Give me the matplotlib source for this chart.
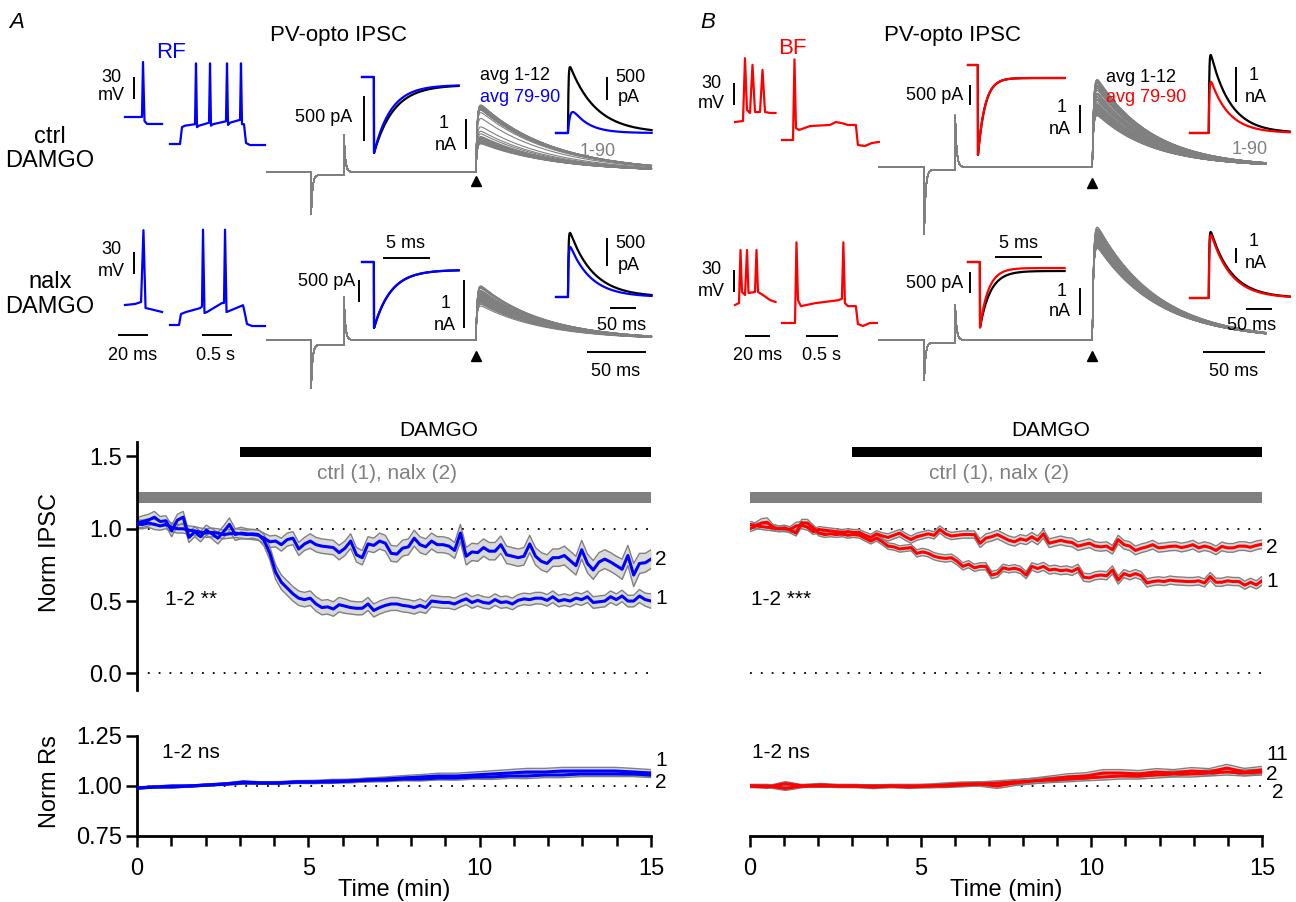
import numpy as np
import matplotlib.pyplot as plt

plt.rcParams['font.family'] = ['Liberation Sans', 'DejaVu Sans']

W, H = 1296, 902
BLUE, RED, GREY, BAND = '#0000ff', '#ff0000', '#808080', '#d9d9d9'

# ---------------- time course, one sweep every 10 s (sweeps 1-90) ----------------
ipsc_ctrl_A = [1.03, 1.03, 1.04, 1.03, 1.02, 1.03, 1.01, 1.00, 1.00, 0.99,
               0.985, 0.975, 0.97, 0.975, 0.97, 0.96, 0.965, 0.97, 0.965, 0.96,
               0.965, 0.96, 0.92, 0.83, 0.70, 0.63, 0.59, 0.55, 0.52, 0.51,
               0.52, 0.48, 0.455, 0.46, 0.445, 0.475, 0.465, 0.455, 0.45, 0.45,
               0.48, 0.435, 0.455, 0.47, 0.48, 0.48, 0.47, 0.465, 0.455, 0.47,
               0.455, 0.50, 0.495, 0.49, 0.49, 0.48, 0.50, 0.515, 0.49, 0.505,
               0.49, 0.485, 0.51, 0.49, 0.495, 0.48, 0.505, 0.515, 0.51, 0.52,
               0.52, 0.505, 0.53, 0.50, 0.51, 0.50, 0.52, 0.51, 0.53, 0.49,
               0.495, 0.50, 0.53, 0.51, 0.535, 0.50, 0.50, 0.535, 0.51, 0.50]
sem_ctrl_A = [0.03, 0.03, 0.03, 0.035, 0.03, 0.03, 0.03, 0.03, 0.03, 0.03,
              0.03, 0.03, 0.03, 0.03, 0.03, 0.03, 0.03, 0.03, 0.03, 0.03,
              0.03, 0.035, 0.04, 0.045, 0.05, 0.05, 0.05, 0.05, 0.05, 0.05,
              0.05, 0.05, 0.05, 0.05, 0.05, 0.05, 0.05, 0.045, 0.045, 0.045,
              0.045, 0.045, 0.045, 0.045, 0.045, 0.045, 0.045, 0.045, 0.045, 0.045,
              0.04, 0.04, 0.04, 0.04, 0.04, 0.04, 0.04, 0.04, 0.04, 0.04,
              0.04, 0.04, 0.04, 0.04, 0.04, 0.04, 0.04, 0.04, 0.04, 0.04,
              0.04, 0.04, 0.04, 0.04, 0.04, 0.04, 0.04, 0.04, 0.04, 0.04,
              0.04, 0.04, 0.04, 0.04, 0.04, 0.04, 0.04, 0.045, 0.045, 0.05]
ipsc_nalx_A = [1.04, 1.05, 1.06, 1.08, 1.05, 1.055, 0.985, 1.06, 1.08, 0.94,
               0.98, 0.945, 0.99, 0.965, 0.935, 0.98, 1.03, 0.96, 0.97, 0.965,
               0.96, 0.955, 0.935, 0.91, 0.915, 0.89, 0.925, 0.935, 0.86, 0.895,
               0.915, 0.89, 0.88, 0.875, 0.87, 0.835, 0.865, 0.915, 0.82, 0.80,
               0.895, 0.885, 0.915, 0.90, 0.83, 0.825, 0.866, 0.875, 0.935, 0.89,
               0.875, 0.915, 0.89, 0.89, 0.88, 0.85, 0.97, 0.81, 0.84, 0.835,
               0.87, 0.845, 0.845, 0.89, 0.82, 0.81, 0.80, 0.81, 0.895, 0.81,
               0.775, 0.76, 0.80, 0.80, 0.815, 0.78, 0.745, 0.855, 0.76, 0.715,
               0.77, 0.79, 0.77, 0.745, 0.72, 0.815, 0.68, 0.76, 0.765, 0.79]
sem_nalx_A = [0.035, 0.04, 0.04, 0.04, 0.035, 0.035, 0.04, 0.04, 0.04, 0.035,
              0.035, 0.035, 0.035, 0.035, 0.04, 0.04, 0.045, 0.04, 0.04, 0.035,
              0.035, 0.035, 0.035, 0.04, 0.04, 0.045, 0.045, 0.045, 0.045, 0.045,
              0.05, 0.05, 0.05, 0.05, 0.05, 0.05, 0.05, 0.05, 0.05, 0.05,
              0.05, 0.05, 0.055, 0.055, 0.055, 0.055, 0.055, 0.055, 0.055, 0.055,
              0.055, 0.055, 0.055, 0.055, 0.055, 0.055, 0.06, 0.06, 0.06, 0.06,
              0.06, 0.06, 0.06, 0.06, 0.06, 0.06, 0.06, 0.06, 0.06, 0.06,
              0.06, 0.06, 0.06, 0.06, 0.065, 0.065, 0.065, 0.065, 0.065, 0.065,
              0.065, 0.065, 0.065, 0.065, 0.07, 0.07, 0.08, 0.07, 0.065, 0.065]
ipsc_ctrl_B = [1.03, 1.02, 1.015, 1.01, 1.005, 1.0, 1.005, 0.99, 0.97, 1.04,
               1.04, 1.005, 0.97, 0.96, 0.965, 0.96, 0.965, 0.955, 0.96, 0.955,
               0.935, 0.915, 0.935, 0.91, 0.88, 0.875, 0.86, 0.865, 0.87, 0.83,
               0.84, 0.83, 0.81, 0.80, 0.795, 0.80, 0.775, 0.74, 0.755, 0.73,
               0.74, 0.74, 0.68, 0.69, 0.73, 0.72, 0.727, 0.715, 0.68, 0.74,
               0.725, 0.74, 0.715, 0.72, 0.71, 0.715, 0.705, 0.727, 0.665, 0.66,
               0.675, 0.68, 0.675, 0.715, 0.645, 0.69, 0.675, 0.69, 0.675, 0.625,
               0.635, 0.64, 0.635, 0.645, 0.64, 0.638, 0.635, 0.635, 0.64, 0.625,
               0.67, 0.63, 0.63, 0.64, 0.635, 0.635, 0.61, 0.63, 0.612, 0.64]
sem_ctrl_B = [0.02, 0.02, 0.02, 0.02, 0.02, 0.02, 0.02, 0.02, 0.02, 0.025,
              0.025, 0.02, 0.02, 0.02, 0.02, 0.02, 0.02, 0.02, 0.02, 0.02,
              0.02, 0.02, 0.02, 0.022, 0.022, 0.022, 0.022, 0.022, 0.022, 0.025,
              0.025, 0.025, 0.025, 0.025, 0.025, 0.025, 0.025, 0.025, 0.025, 0.025,
              0.025, 0.025, 0.025, 0.025, 0.025, 0.025, 0.025, 0.025, 0.025, 0.025,
              0.028, 0.028, 0.028, 0.028, 0.028, 0.028, 0.028, 0.028, 0.028, 0.028,
              0.028, 0.028, 0.028, 0.028, 0.028, 0.028, 0.028, 0.028, 0.028, 0.028,
              0.028, 0.028, 0.028, 0.028, 0.028, 0.028, 0.028, 0.028, 0.028, 0.028,
              0.028, 0.028, 0.028, 0.028, 0.028, 0.028, 0.028, 0.028, 0.028, 0.03]
ipsc_nalx_B = [1.0, 1.02, 1.04, 1.045, 1.01, 1.0, 1.0, 0.995, 1.02, 1.025,
               1.01, 0.98, 0.995, 0.99, 0.985, 0.98, 0.975, 0.98, 0.975, 0.975,
               0.955, 0.94, 0.965, 0.95, 0.94, 0.955, 0.97, 0.945, 0.925, 0.945,
               0.955, 0.965, 0.955, 0.995, 0.965, 0.95, 0.955, 0.96, 0.96, 0.96,
               0.90, 0.935, 0.945, 0.96, 0.94, 0.92, 0.91, 0.93, 0.92, 0.945,
               0.92, 0.965, 0.90, 0.91, 0.92, 0.91, 0.905, 0.88, 0.89, 0.90,
               0.88, 0.875, 0.88, 0.855, 0.925, 0.89, 0.88, 0.85, 0.865, 0.875,
               0.89, 0.868, 0.872, 0.878, 0.88, 0.87, 0.878, 0.89, 0.868, 0.88,
               0.87, 0.85, 0.878, 0.868, 0.868, 0.88, 0.88, 0.872, 0.885, 0.893]
sem_nalx_B = [0.02, 0.025, 0.03, 0.03, 0.02, 0.02, 0.02, 0.02, 0.025, 0.025,
              0.02, 0.02, 0.02, 0.02, 0.02, 0.02, 0.02, 0.02, 0.02, 0.02,
              0.022, 0.022, 0.022, 0.022, 0.025, 0.025, 0.025, 0.025, 0.025, 0.025,
              0.025, 0.025, 0.025, 0.025, 0.025, 0.025, 0.025, 0.025, 0.025, 0.025,
              0.03, 0.03, 0.03, 0.03, 0.03, 0.03, 0.03, 0.03, 0.03, 0.03,
              0.03, 0.03, 0.03, 0.03, 0.03, 0.03, 0.03, 0.03, 0.03, 0.03,
              0.03, 0.03, 0.03, 0.03, 0.03, 0.03, 0.03, 0.03, 0.03, 0.03,
              0.03, 0.03, 0.03, 0.03, 0.03, 0.03, 0.03, 0.03, 0.03, 0.03,
              0.03, 0.03, 0.03, 0.03, 0.03, 0.03, 0.03, 0.03, 0.03, 0.03]

# series resistance, one point every 30 s
rs_ctrl_A = [0.99, 0.995, 1.0, 1.0, 1.005, 1.01, 1.015, 1.015, 1.015, 1.02,
             1.02, 1.025, 1.025, 1.03, 1.035, 1.04, 1.045, 1.05, 1.05, 1.055,
             1.06, 1.065, 1.07, 1.07, 1.075, 1.075, 1.075, 1.075, 1.07, 1.065]
rs_sem_ctrl_A = [0.005, 0.005, 0.005, 0.005, 0.005, 0.006, 0.006, 0.006, 0.007, 0.007,
                 0.008, 0.008, 0.009, 0.01, 0.01, 0.012, 0.012, 0.014, 0.014, 0.015,
                 0.016, 0.017, 0.018, 0.018, 0.018, 0.018, 0.018, 0.018, 0.018, 0.017]
rs_nalx_A = [0.99, 0.995, 0.995, 1.0, 1.005, 1.01, 1.02, 1.015, 1.015, 1.02,
             1.02, 1.02, 1.025, 1.03, 1.03, 1.035, 1.035, 1.04, 1.04, 1.045,
             1.045, 1.05, 1.05, 1.055, 1.055, 1.06, 1.06, 1.06, 1.06, 1.055]
rs_sem_nalx_A = [0.005, 0.005, 0.005, 0.005, 0.005, 0.005, 0.006, 0.006, 0.006, 0.006,
                 0.007, 0.007, 0.008, 0.008, 0.009, 0.009, 0.01, 0.01, 0.011, 0.011,
                 0.012, 0.012, 0.013, 0.013, 0.013, 0.013, 0.013, 0.013, 0.013, 0.013]
rs_ctrl_B = [1.0, 1.0, 0.988, 1.0, 1.005, 1.0, 1.0, 0.995, 1.0, 1.0,
             1.0, 1.005, 1.01, 1.01, 1.0, 1.015, 1.025, 1.035, 1.045, 1.05,
             1.065, 1.065, 1.06, 1.07, 1.065, 1.075, 1.07, 1.09, 1.07, 1.08]
rs_sem_ctrl_B = [0.008, 0.008, 0.01, 0.008, 0.008, 0.008, 0.008, 0.008, 0.008, 0.008,
                 0.009, 0.01, 0.01, 0.011, 0.012, 0.013, 0.014, 0.015, 0.016, 0.016,
                 0.017, 0.017, 0.017, 0.017, 0.017, 0.017, 0.017, 0.018, 0.018, 0.018]
rs_nalx_B = [1.0, 0.995, 1.012, 1.0, 1.0, 1.0, 1.0, 1.0, 1.0, 0.995,
             1.0, 1.0, 1.005, 1.01, 1.015, 1.02, 1.025, 1.03, 1.035, 1.04,
             1.045, 1.05, 1.05, 1.055, 1.06, 1.06, 1.065, 1.07, 1.065, 1.07]
rs_sem_nalx_B = [0.006, 0.006, 0.01, 0.006, 0.006, 0.006, 0.006, 0.006, 0.007, 0.007,
                 0.008, 0.008, 0.009, 0.01, 0.011, 0.012, 0.013, 0.013, 0.014, 0.014,
                 0.015, 0.015, 0.015, 0.015, 0.015, 0.015, 0.015, 0.015, 0.015, 0.015]

# ---------------- example cells: firing (ms, mV from rest) ----------------
ap_A1_single_t = [0, 11.3, 12, 13, 14.7, 24.7]
ap_A1_single_v = [0, 0, 75, -5.5, -9.5, -9.5]
ap_A1_train_t = [0, 167, 200, 250, 417, 433, 450, 483, 650, 667, 683, 717, 933, 950,
                 967, 1000, 1167, 1183, 1200, 1233, 1267, 1333, 1583]
ap_A1_train_v = [0, 0, 23, 25, 27, 110, 23, 25, 29, 110, 25, 27, 31, 110,
                 26, 29, 33, 110, 27, 27, 1.4, -1.4, -1.4]
ap_A2_single_t = [0, 6.7, 10.7, 12.3, 13.7, 16.7, 24.7]
ap_A2_single_v = [0, 1.4, 4.1, 102, -4.1, -5.5, -9.5]
ap_A2_train_t = [0, 150, 183, 267, 500, 533, 550, 575, 617, 867, 900, 917, 942, 983,
                 1217, 1250, 1283, 1367, 1583]
ap_A2_train_v = [0, 0, 15, 17.7, 23, 25, 130, 16.4, 17.7, 30, 30, 130, 17.7, 19,
                 27, 15, 1.4, -1.4, -1.4]
ap_B1_burst_t = [0, 6.4, 8, 9.6, 12, 14, 16, 20, 22, 24, 28, 32.4]
ap_B1_burst_v = [0, 1.4, 87, 16.4, 12.3, 78, 13.6, 13.6, 71, 13.6, 12.3, 12.3]
ap_B1_train_t = [0, 172, 195, 218, 265, 437, 749, 842, 936, 1030, 1154, 1186, 1295, 1404, 1513]
ap_B1_train_v = [0, 0, 110, 16.4, 13.6, 19, 20.5, 24.5, 23, 20.5, 20.5, -6.8, -8.2, -4.1, -2.7]
ap_B2_burst_t = [0, 3.2, 4.4, 5.6, 8, 9.6, 10.8, 16, 17.2, 18.4, 22.4, 28, 32.4]
ap_B2_burst_v = [0, 2.7, 75, 17.7, 13.6, 75, 16.4, 17.7, 75, 17.7, 13.6, 6.8, 4.1]
ap_B2_train_t = [0, 203, 226, 250, 296, 515, 874, 936, 959, 983, 1030, 1154, 1186, 1264, 1373, 1482]
ap_B2_train_v = [0, 0, 110, 31, 23, 27, 31, 33, 110, 27, 23, 23, -1.4, -4.1, 0, 0]

# IPSC sweeps: rows A-ctrl, A-nalx, B-ctrl, B-nalx
sweep_peak_nA = [2.15, 1.04, 3.0, 4.0]      # sweep amplitude at norm IPSC = 1
sweep_tau_ms = [62, 55, 45, 50]
cap_dip_nA = [1.53, 1.08, 2.6, 1.6]
cap_up_nA = [1.23, 0.9, 2.0, 1.4]
# capacitive transient, zoomed: drop (pA), steady state (pA), tau black / colour (ms)
capz_drop = [844, 1500, 2250, 1570]
capz_ss_black = [89, 180, 325, 214]
capz_ss_col = [89, 180, 325, 143]
capz_tau_black = [2.1, 1.8, 0.75, 1.1]
capz_tau_col = [1.8, 1.8, 0.75, 0.9]
# averaged IPSCs: sweeps 1-12 (black) and 79-90 (colour)
avg_amp_black = [1435, 1145, 2230, 4400]
avg_amp_col = [456, 893, 1460, 4200]
avg_tau_black = [50, 45, 38, 40]
avg_tau_col = [30, 40, 35, 38]
avg_rise_col = [4, 1.2, 1.2, 1.2]

t_sweep = np.linspace(0, 15, 90)
t_rs = np.linspace(0, 15, 30)

fig = plt.figure(figsize=(W / 100, H / 100), dpi=100)


def txt(x, y, s, size=13, color='k', ha='center', **kw):
    fig.text(x / W, 1 - y / H, s, fontsize=size, color=color, ha=ha, va='center', **kw)


def trace_ax(ox, oy, sx, sy):
    # invisible axes, pixel (ox, oy) is data (0, 0); sx, sy are units per pixel
    ax = fig.add_axes([ox / W, 1 - (oy + 50) / H, 100 / W, 100 / H])
    ax.set_xlim(0, 100 * sx)
    ax.set_ylim(-50 * sy, 50 * sy)
    ax.axis('off')
    ax.px = (ox, oy, sx, sy)
    return ax


def to_data(ax, x, y):
    ox, oy, sx, sy = ax.px
    return (x - ox) * sx, (oy - y) * sy


def vbar(ax, x, y, length):
    xd, yd = to_data(ax, x, y)
    ax.plot([xd, xd], [yd, yd + length], color='k', lw=1.4, clip_on=False, solid_capstyle='butt')


def hbar(ax, x, y, length):
    xd, yd = to_data(ax, x, y)
    ax.plot([xd, xd + length], [yd, yd], color='k', lw=1.4, clip_on=False, solid_capstyle='butt')


def psc(t, t_on, tau_r, tau_d):
    s = np.clip(t - t_on, 0, None)
    y = np.exp(-s / tau_d) - np.exp(-s / tau_r)
    return y / y.max()


def cap(t, t_on, t_off, dip, up, ss, tau):
    y = np.zeros_like(t)
    a = (t >= t_on) & (t < t_off)
    y[a] = -ss - (dip - ss) * np.exp(-(t[a] - t_on) / tau)
    b = t >= t_off
    y[b] = up * np.exp(-(t[b] - t_off) / tau)
    return y


def cap_zoom(t, t_drop, drop, ss, tau):
    s = np.clip(t - t_drop, 0, None)
    return np.where(t < t_drop, 0.0, -ss - (drop - ss) * np.exp(-s / tau))


def ap(ox, oy, sx, t, v, color):
    ax = trace_ax(ox, oy, sx, 30 / 22)
    ax.plot(t, v, color=color, lw=1.6, clip_on=False)
    return ax


def overlay(i, ox, oy, sx, sy, t_end, norm, pulse, t_on, tri):
    ax = trace_ax(ox, oy, sx, sy)
    t = np.arange(0, t_end, 0.2)
    base = cap(t, pulse[0], pulse[1], cap_dip_nA[i], cap_up_nA[i], 0.1, 1.2)
    k = psc(t, t_on, 1.0, sweep_tau_ms[i])
    for a in norm:
        ax.plot(t, base + sweep_peak_nA[i] * a * k, color=GREY, lw=0.8, clip_on=False)
    xd, yd = to_data(ax, *tri)
    ax.plot(xd, yd, marker='^', color='k', ms=7, clip_on=False)
    return ax


def cap_inset(i, ox, oy, sy, t_drop, t_end, color):
    ax = trace_ax(ox, oy, 5 / 47, sy)
    t = np.arange(0, t_end, 0.02)
    ax.plot(t, cap_zoom(t, t_drop, capz_drop[i], capz_ss_black[i], capz_tau_black[i]),
            color='k', lw=1.6, clip_on=False)
    ax.plot(t, cap_zoom(t, t_drop, capz_drop[i], capz_ss_col[i], capz_tau_col[i]),
            color=color, lw=1.6, clip_on=False)
    return ax


def avg_inset(i, ox, oy, sy, t_on, t_end, color):
    ax = trace_ax(ox, oy, 50 / 26, sy)
    t = np.arange(0, t_end, 0.2)
    ax.plot(t, avg_amp_black[i] * psc(t, t_on, 1.0, avg_tau_black[i]), color='k', lw=1.6, clip_on=False)
    ax.plot(t, avg_amp_col[i] * psc(t, t_on, avg_rise_col[i], avg_tau_col[i]), color=color, lw=1.6, clip_on=False)
    return ax


# ================= panel A, traces =================
txt(17, 22, 'A', size=16, style='italic')
txt(338, 36, 'PV-opto IPSC', size=16)
txt(171, 52, 'RF', size=16, color=BLUE)
txt(50, 137, 'ctrl', size=17)
txt(50, 161, 'DAMGO', size=17)
txt(50, 282, 'nalx', size=17)
txt(50, 307, 'DAMGO', size=17)

ax = ap(125, 117, 20 / 30, ap_A1_single_t, ap_A1_single_v, BLUE)
vbar(ax, 134, 99, 30)
txt(111, 77, '30')
txt(111, 96, 'mV')
ap(170, 144, 500 / 30, ap_A1_train_t, ap_A1_train_v, BLUE)

ax = ap(125, 305, 20 / 30, ap_A2_single_t, ap_A2_single_v, BLUE)
vbar(ax, 134, 274, 30)
hbar(ax, 118, 335, 20)
txt(111, 250, '30')
txt(111, 271, 'mV')
txt(133, 355, '20 ms')
ax = ap(170, 325, 500 / 30, ap_A2_train_t, ap_A2_train_v, BLUE)
hbar(ax, 202, 335, 500)
txt(216, 355, '0.5 s')

ax = overlay(0, 267, 172, 50 / 59, 1 / 30, 326, ipsc_ctrl_A, (37.3, 65.2), 177, (476, 181))
vbar(ax, 466, 149, 1)
txt(444, 124, '1')
txt(446, 146, 'nA')
txt(598, 152, '1-90', color=GREY)
ax = overlay(1, 267, 340, 50 / 59, 1 / 48, 326, ipsc_nalx_A, (37.3, 65.2), 177, (476, 356))
vbar(ax, 464, 328, 1)
hbar(ax, 587, 352, 50)
txt(446, 303, '1')
txt(445, 325, 'nA')
txt(616, 371, '50 ms')

ax = cap_inset(0, 362, 77, 500 / 45, 1.28, 10.3, BLUE)
vbar(ax, 364, 141, 500)
txt(324, 118, '500 pA')
ax = cap_inset(1, 362, 262, 500 / 22, 1.28, 10.3, BLUE)
vbar(ax, 359, 302, 500)
hbar(ax, 383, 258, 5)
txt(327, 281, '500 pA')
txt(406, 243, '5 ms')

txt(480, 75, 'avg 1-12', ha='left')
txt(480, 97, 'avg 79-90', ha='left', color=BLUE)
ax = avg_inset(0, 556, 133, 500 / 23, 23, 184, BLUE)
vbar(ax, 607, 100, 500)
txt(615, 77, '500', ha='left')
txt(618, 98, 'pA', ha='left')
ax = avg_inset(1, 556, 297, 500 / 28, 23, 184, BLUE)
vbar(ax, 607, 266, 500)
hbar(ax, 610, 308, 50)
txt(615, 244, '500', ha='left')
txt(618, 266, 'pA', ha='left')
txt(622, 326, '50 ms')

# ================= panel B, traces =================
txt(708, 22, 'B', size=16, style='italic')
txt(952, 35, 'PV-opto IPSC', size=16)
txt(792, 49, 'BF', size=16, color=RED)

ax = ap(735, 122, 20 / 25, ap_B1_burst_t, ap_B1_burst_v, RED)
vbar(ax, 734, 105, 30)
txt(711, 83, '30')
txt(711, 104, 'mV')
ap(782, 140, 500 / 32, ap_B1_train_t, ap_B1_train_v, RED)

ax = ap(735, 305, 20 / 25, ap_B2_burst_t, ap_B2_burst_v, RED)
vbar(ax, 734, 292, 30)
hbar(ax, 745, 336, 20)
txt(711, 270, '30')
txt(711, 292, 'mV')
txt(758, 355, '20 ms')
ax = ap(782, 323, 500 / 32, ap_B2_train_t, ap_B2_train_v, RED)
hbar(ax, 806, 336, 500)
txt(821, 355, '0.5 s')

ax = overlay(2, 879, 167, 50 / 62, 1 / 28, 312, ipsc_ctrl_B, (36.3, 61.3), 172, (1092, 183))
vbar(ax, 1080, 133, 1)
txt(1062, 108, '1')
txt(1060, 129, 'nA')
txt(1250, 150, '1-90', color=GREY)
ax = overlay(3, 879, 340, 50 / 62, 1 / 27, 312, ipsc_nalx_B, (36.3, 61.3), 172, (1092, 356))
vbar(ax, 1080, 315, 1)
hbar(ax, 1203, 352, 50)
txt(1062, 291, '1')
txt(1060, 312, 'nA')
txt(1234, 371, '50 ms')

ax = cap_inset(2, 968, 65, 500 / 20, 1.06, 10.3, RED)
vbar(ax, 970, 105, 500)
txt(935, 95, '500 pA')
ax = cap_inset(3, 968, 262, 500 / 21, 1.27, 10.3, RED)
vbar(ax, 970, 293, 500)
hbar(ax, 995, 257, 5)
txt(935, 283, '500 pA')
txt(1018, 243, '5 ms')

txt(1106, 78, 'avg 1-12', ha='left')
txt(1106, 98, 'avg 79-90', ha='left', color=RED)
ax = avg_inset(2, 1190, 133, 1000 / 35, 36, 192, RED)
vbar(ax, 1236, 102, 1000)
txt(1254, 75, '1')
txt(1256, 97, 'nA')
ax = avg_inset(3, 1190, 298, 1000 / 15, 36, 192, RED)
vbar(ax, 1236, 263, 1000)
hbar(ax, 1246, 309, 50)
txt(1254, 242, '1')
txt(1256, 264, 'nA')
txt(1252, 326, '50 ms')


# ================= time courses =================
def band(ax, t, m, s, color):
    m, s = np.asarray(m), np.asarray(s)
    ax.fill_between(t, m - s, m + s, color=BAND, lw=0, zorder=1)
    ax.plot(t, m - s, color=GREY, lw=1, zorder=2)
    ax.plot(t, m + s, color=GREY, lw=1, zorder=2)
    ax.plot(t, m, color=color, lw=2.2, zorder=3)


def style(ax, left, bottom):
    for side in ('top', 'right'):
        ax.spines[side].set_visible(False)
    ax.spines['left'].set_visible(left)
    ax.spines['bottom'].set_visible(bottom)
    for side in ('left', 'bottom'):
        ax.spines[side].set_linewidth(2)
    ax.tick_params(which='both', direction='out', width=1.8, labelsize=17)
    ax.tick_params(axis='y', pad=3)
    ax.tick_params(axis='x', pad=8)
    ax.tick_params(which='major', length=8)
    ax.tick_params(which='minor', length=7)
    if not left:
        ax.set_yticks([])
    if not bottom:
        ax.set_xticks([])


def ipsc_panel(x0, w, color, ctrl, sc, nalx, sn, stars, star_t, y2, y1, left):
    ax = fig.add_axes([x0 / W, 1 - 690 / H, w / W, 248 / H])
    ax.set_xlim(0, 15)
    ax.set_ylim(-0.115, 1.6)
    band(ax, t_sweep, nalx, sn, color)
    band(ax, t_sweep, ctrl, sc, color)
    for v in (0, 1):
        ax.plot([0, 15], [v, v], color='k', lw=1.3, ls=(0, (1, 5)), zorder=0)
    ax.fill_between([3, 15], 1.493, 1.562, color='k', lw=0)
    ax.fill_between([0, 15], 1.177, 1.253, color=GREY, lw=0)
    ax.text(8.8, 1.68, 'DAMGO', ha='center', va='center', fontsize=15, clip_on=False)
    ax.text(7.3, 1.38, 'ctrl (1), nalx (2)', ha='center', va='center', fontsize=15, color=GREY)
    ax.text(star_t, 0.51, stars, ha='left', va='center', fontsize=15)
    ax.text(15.12, y2, '2', ha='left', va='center', fontsize=15, clip_on=False)
    ax.text(15.12, y1, '1', ha='left', va='center', fontsize=15, clip_on=False)
    style(ax, left, False)
    if left:
        ax.set_yticks([0, 0.5, 1.0, 1.5])
        ax.set_yticklabels(['0.0', '0.5', '1.0', '1.5'])
    return ax


def rs_panel(x0, w, color, r1, s1, r2, s2, left):
    ax = fig.add_axes([x0 / W, 1 - 836 / H, w / W, 100 / H])
    ax.set_xlim(0, 15)
    ax.set_ylim(0.75, 1.25)
    band(ax, t_rs, r2, s2, color)
    band(ax, t_rs, r1, s1, color)
    ax.plot([0, 15], [1, 1], color='k', lw=1.3, ls=(0, (1, 5)), zorder=0)
    style(ax, left, True)
    ax.set_xticks([0, 5, 10, 15])
    ax.set_xticks(np.arange(0, 16), minor=True)
    ax.set_xlabel('Time (min)', fontsize=17, labelpad=-1)
    if left:
        ax.set_yticks([0.75, 1.0, 1.25])
        ax.set_yticklabels(['0.75', '1.00', '1.25'])
    for spine in ax.spines.values():
        spine.set_clip_on(False)
    return ax


ipsc_panel(137, 514, BLUE, ipsc_ctrl_A, sem_ctrl_A, ipsc_nalx_A, sem_nalx_A,
           '1-2 **', 0.82, 0.785, 0.52, True)
ipsc_panel(750, 512, RED, ipsc_ctrl_B, sem_ctrl_B, ipsc_nalx_B, sem_nalx_B,
           '1-2 ***', 0.03, 0.87, 0.635, False)

ax = rs_panel(137, 514, BLUE, rs_ctrl_A, rs_sem_ctrl_A, rs_nalx_A, rs_sem_nalx_A, True)
ax.text(0.73, 1.17, '1-2 ns', ha='left', va='center', fontsize=15)
ax.text(15.12, 1.13, '1', ha='left', va='center', fontsize=15, clip_on=False)
ax.text(15.12, 1.02, '2', ha='left', va='center', fontsize=15, clip_on=False)
ax = rs_panel(750, 512, RED, rs_ctrl_B, rs_sem_ctrl_B, rs_nalx_B, rs_sem_nalx_B, False)
ax.text(0.06, 1.165, '1-2 ns', ha='left', va='center', fontsize=15)
ax.text(15.12, 1.155, '11', ha='left', va='center', fontsize=15, clip_on=False)
ax.text(15.12, 1.055, '2', ha='left', va='center', fontsize=15, clip_on=False)
ax.text(15.3, 0.97, '2', ha='left', va='center', fontsize=15, clip_on=False)

txt(50, 552, 'Norm IPSC', size=17, rotation=90)
txt(50, 782, 'Norm Rs', size=17, rotation=90)

fig.savefig('out.png', dpi=100, facecolor='white')
